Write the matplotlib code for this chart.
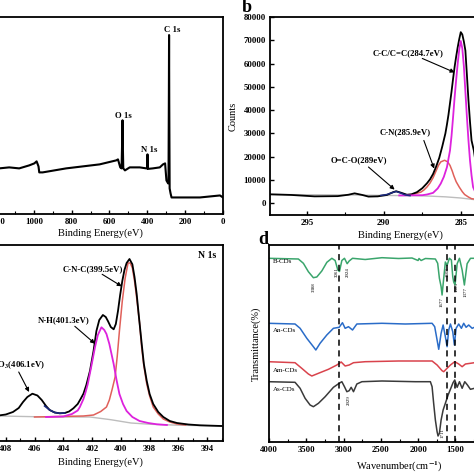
import numpy as np
import matplotlib
matplotlib.use('Agg')
import matplotlib.pyplot as plt
from matplotlib.ticker import MultipleLocator

plt.rcParams['font.family'] = ['Liberation Serif', 'DejaVu Serif']
plt.rcParams['font.weight'] = 'bold'
plt.rcParams['mathtext.fontset'] = 'stix'
plt.rcParams['axes.linewidth'] = 1.3
plt.rcParams['xtick.direction'] = 'in'
plt.rcParams['ytick.direction'] = 'in'

# (a) survey spectrum
survey_be = [1300, 1250, 1183, 1130, 1077, 1024, 997, 985, 975, 971, 953, 829, 652, 564, 555,
             543, 536, 532, 531, 530, 527, 518, 493, 440, 405, 401, 399, 397, 371, 334, 317,
             306, 299, 290, 288, 286, 285, 284, 282, 277, 272, 122, 16, 0]
survey_counts = [45000, 46000, 45000, 46000, 45000, 48000, 50000, 52000, 47000, 41000, 41000,
                 45000, 49000, 53000, 54000, 46000, 45000, 80000, 93000, 75000, 45000, 43000,
                 46000, 46000, 45000, 45000, 59000, 44500, 45000, 46000, 49000, 50000, 33000,
                 30000, 31000, 120000, 178000, 110000, 25000, 20000, 16000, 16000, 18000, 16000]

# (b) C 1s
c1s_env_be = [297.5, 296.0, 294.5, 293.0, 292.3, 291.9, 291.4, 291.0, 290.4, 289.8, 289.4, 289.2,
              288.9, 288.5, 288.2, 287.85, 287.5, 287.2, 287.0, 286.8, 286.6, 286.4, 286.2, 286.0,
              285.9, 285.8, 285.7, 285.6, 285.5, 285.4, 285.3, 285.2, 285.1, 285.0, 284.9, 284.8,
              284.7, 284.6, 284.5, 284.4, 284.3, 284.15, 284.0, 283.8, 283.5, 283.2, 282.5, 281.5,
              280.0]
c1s_env = [3900, 3600, 3000, 3100, 3700, 4300, 3600, 2900, 3000, 3600, 4800, 5200, 4600, 3700,
           3900, 4800, 6500, 8600, 10300, 12600, 15800, 19500, 24500, 30000, 33800, 38000, 43000,
           48000, 53500, 58600, 63000, 67000, 70500, 73500, 72500, 69500, 65600, 55000, 44200,
           35000, 27000, 22700, 16000, 11000, 6500, 4000, 2000, 1200, 800]
c1s_cc_be = [289.0, 287.5, 287.2, 286.8, 286.5, 286.3, 286.1, 285.9, 285.7, 285.6, 285.5, 285.4,
             285.3, 285.2, 285.1, 285.0, 284.9, 284.8, 284.7, 284.6, 284.5, 284.4, 284.3, 284.2,
             284.0, 283.8, 283.0, 280.0]
c1s_cc = [3400, 3500, 3800, 4500, 6400, 8500, 11400, 15500, 22700, 29000, 37000, 45500, 53000,
          60000, 66000, 69700, 66500, 59000, 48000, 37000, 27000, 18400, 12000, 7000, 4000, 3000,
          1500, 800]
c1s_cn_be = [288.5, 288.2, 287.6, 287.4, 287.2, 287.0, 286.8, 286.6, 286.45, 286.3, 286.05, 285.85,
             285.7, 285.55, 285.45, 285.3, 285.1, 284.9, 284.75, 284.5, 284.3, 283.5, 282.0, 280.0]
c1s_cn = [3500, 3700, 4800, 5700, 7000, 8700, 11000, 14000, 16300, 17800, 18500, 17800, 16300,
          13800, 11800, 9300, 7000, 5000, 3800, 2700, 2000, 1300, 900, 800]
c1s_oco_be = [290.2, 289.8, 289.5, 289.2, 288.9, 288.6, 288.3]
c1s_oco = [3400, 3800, 4500, 5100, 4400, 3600, 3300]
c1s_bg_be = [297.5, 292.0, 290.0, 288.0, 287.0, 286.0, 285.0, 284.5, 284.0, 283.0, 281.0, 280.0]
c1s_bg = [3800, 3600, 3400, 3300, 3100, 2800, 2300, 1900, 1500, 1000, 800, 800]

# (c) N 1s
n1s_env_be = [410.0, 409.0, 408.4, 408.0, 407.5, 407.1, 406.8, 406.5, 406.15, 405.8, 405.5, 405.2,
              404.95, 404.6, 404.25, 403.9, 403.6, 403.3, 403.0, 402.8, 402.6, 402.4, 402.15,
              401.9, 401.7, 401.5, 401.25, 401.05, 400.9, 400.7, 400.5, 400.35, 400.2, 400.05,
              399.9, 399.75, 399.6, 399.4, 399.2, 399.05, 398.9, 398.75, 398.55, 398.4, 398.2,
              398.0, 397.75, 397.4, 397.05, 396.6, 396.1, 395.3, 394.5, 393.0]
n1s_env = [24, 25, 25.7, 26.5, 29, 33, 39, 44, 47.3, 45.5, 41, 35, 31, 28.5, 27.7, 28, 29.5, 32.7,
           37, 42, 47.3, 56, 70, 90, 110, 121, 126, 124, 120, 114, 111.7, 117, 130, 146, 160, 171,
           178, 182, 176.7, 164, 147, 125, 97, 77, 60, 47, 37, 29, 24, 20, 18, 16.5, 15.7, 15]
n1s_nh_be = [405.2, 404.0, 403.4, 403.0, 402.85, 402.6, 402.45, 402.3, 402.05, 401.8, 401.6,
             401.35, 401.15, 401.0, 400.8, 400.65, 400.5, 400.3, 400.1, 399.85, 399.6, 399.2,
             398.7, 398.1, 397.5, 396.8]
n1s_nh = [24, 24.5, 27, 30.5, 34, 42, 49, 57, 75, 93.7, 106, 113.7, 111, 107, 97, 87, 77, 61, 47,
          37, 30, 24, 20, 18, 16.7, 16]
n1s_cnc_be = [406.0, 402.6, 401.9, 401.4, 401.0, 400.8, 400.6, 400.4, 400.25, 400.1, 399.9, 399.7,
              399.5, 399.35, 399.2, 399.05, 398.9, 398.7, 398.55, 398.4, 398.2, 398.0, 397.75,
              397.4, 397.05, 396.6, 396.1, 395.5]
n1s_cnc = [24, 25, 26, 29.5, 34, 41, 52, 64, 85, 110, 140, 163, 178, 178, 173, 160, 143, 118, 93,
           75, 57, 45, 34, 27, 22, 19, 17, 16]
n1s_no3_be = [405.3, 404.95, 404.6, 404.25, 403.9]
n1s_no3 = [35, 31, 28.5, 27.7, 28]
n1s_bg_be = [410.0, 408.4, 405.0, 402.15, 400.7, 399.3, 397.9, 396.0, 393.0]
n1s_bg = [24.5, 25, 24, 24, 21.3, 18, 16.7, 15.8, 15]

# (d) FTIR
b_wn = [4009, 3606, 3539, 3472, 3405, 3359, 3292, 3224, 3157, 3113, 3077, 3055, 3023, 2988, 2952,
        2925, 2880, 2710, 2485, 2262, 2082, 2001, 1988, 1960, 1903, 1769, 1738, 1715, 1692, 1679,
        1657, 1635, 1612, 1581, 1554, 1536, 1523, 1505, 1477, 1446, 1410, 1380, 1343, 1298, 1253,
        1000, 500]
b_t = [183.7, 183, 178.7, 170.3, 164.3, 165, 171, 179.7, 183.7, 181.5, 172, 170.5, 181.5, 183.7,
       178.3, 181, 183.7, 182.5, 184.3, 183.5, 184, 181.5, 183.5, 181.5, 183.5, 183, 178.7, 163.7,
       155.3, 147, 163.7, 180, 176.7, 183.7, 182, 165.3, 160, 157, 178.3, 183.7, 172, 157, 178.3,
       183.7, 183.7, 182.5, 181.5]
an_wn = [4009, 3651, 3583, 3493, 3405, 3372, 3315, 3225, 3136, 3059, 3015, 2979, 2934, 2880, 2822,
         2485, 2172, 1813, 1778, 1746, 1724, 1692, 1665, 1635, 1612, 1590, 1567, 1536, 1514, 1491,
         1456, 1420, 1389, 1357, 1322, 1276, 1245, 1000, 500]
an_t = [118.7, 118, 113.7, 103.7, 95.3, 92, 98.7, 107, 113.7, 114.7, 119.3, 113.7, 115.3, 112,
        118, 118.7, 118, 118.7, 115.3, 102, 92.7, 108.7, 117, 105.3, 95.3, 112, 118, 110.3, 97,
        113.7, 118, 113.7, 118.7, 114.7, 117, 113.7, 114.7, 117, 117]
am_wn = [4009, 3651, 3561, 3472, 3426, 3337, 3203, 3090, 3032, 2979, 2925, 2867, 2710, 2262, 1813,
         1746, 1679, 1657, 1612, 1567, 1509, 1456, 1410, 1366, 1299, 1245, 1000, 500]
am_t = [80.3, 79.3, 73.7, 68, 66, 68.7, 72.7, 77, 80, 76, 77, 79.3, 80.3, 81, 81, 77, 71.3, 70.3,
        73.7, 77, 80.3, 78, 75.3, 78, 78.7, 79.3, 79.5, 79.5]
as_wn = [4009, 3651, 3583, 3516, 3449, 3405, 3337, 3247, 3136, 3059, 3023, 2988, 2956, 2925, 2898,
         2867, 2822, 2754, 2485, 2038, 1836, 1813, 1792, 1769, 1746, 1733, 1715, 1692, 1665, 1635,
         1598, 1562, 1532, 1509, 1477, 1446, 1410, 1375, 1339, 1299, 1245, 1000, 500]
as_t = [60.3, 59.7, 53.7, 43.7, 37, 35.3, 38.7, 45.3, 54.7, 58.7, 60.3, 55.3, 50.3, 51.3, 54.7,
        50.3, 58, 60.3, 61, 60.3, 60.3, 55.3, 38.7, 22, 10.3, 6, 8.7, 22, 32, 38.7, 47, 53.7, 59.3,
        62, 54.7, 60.3, 53.7, 60.3, 57, 52.7, 53.7, 57, 57]
ir_names = ['B-CDs', 'An-CDs', 'Am-CDs', 'As-CDs']
ir_name_t = [181, 111.3, 72, 52.7]
dash_wn = [3061, 1608, 1505]
peak_text = ['3388', '3061', '2924', '1677', '1608', '1505', '1377', '2929', '1711']
peak_wn = [3405, 3088, 2948, 1692, 1602, 1491, 1366, 2934, 1671]
peak_t = [155, 170, 170, 140, 170, 155, 150, 42, 9]

W = 474
fig = plt.figure(figsize=(4.74, 4.74), dpi=100)


def add_ax(l, t, r, b):
    return fig.add_axes([l / W, 1 - b / W, (r - l) / W, (b - t) / W])


def arrow(ax, tail, head):
    ax.annotate('', xy=head, xytext=tail,
                arrowprops=dict(arrowstyle='-|>', color='black', lw=0.8,
                                mutation_scale=6, shrinkA=0, shrinkB=0))


tfs = 6.3
lfs = 7.5
afs = 6.3

# ---- a
ax = add_ax(-23, 17, 223, 213.5)
ax.plot(survey_be, survey_counts, color='black', lw=1.5)
ax.set_xlim(1300, 0)
ax.set_ylim(0, 196000)
ax.set_yticks([])
ax.xaxis.set_major_locator(MultipleLocator(200))
ax.xaxis.set_minor_locator(MultipleLocator(100))
ax.tick_params(axis='x', labelsize=tfs, length=3, width=1, pad=3)
ax.tick_params(axis='x', which='minor', length=2, width=0.8)
ax.set_xlabel('Binding Energy(eV)', fontsize=lfs, labelpad=2)
ax.text(270, 183000, 'C 1s', fontsize=afs, ha='center', va='center')
ax.text(525, 97000, 'O 1s', fontsize=afs, ha='center', va='center')
ax.text(392, 63000, 'N 1s', fontsize=afs, ha='center', va='center')

# ---- b
ax = add_ax(270, 17, 530, 215)
ax.plot(c1s_bg_be, c1s_bg, color='#bdbdbd', lw=1.0)
ax.plot(c1s_cn_be, c1s_cn, color='#e0605a', lw=1.1)
ax.plot(c1s_env_be, c1s_env, color='black', lw=1.3)
ax.plot(c1s_cc_be, c1s_cc, color='#dd22dd', lw=1.3)
ax.plot(c1s_oco_be, c1s_oco, color='#1b2a80', lw=1.1)
ax.set_xlim(297.4, 280.5)
ax.set_ylim(-5000, 80000)
ax.set_yticks(np.arange(0, 80001, 10000))
ax.xaxis.set_major_locator(MultipleLocator(5))
ax.xaxis.set_minor_locator(MultipleLocator(2.5))
ax.tick_params(labelsize=tfs, length=3, width=1, pad=3)
ax.tick_params(which='minor', length=2, width=0.8)
ax.set_xlabel('Binding Energy(eV)', fontsize=lfs, labelpad=2)
ax.set_ylabel('Counts', fontsize=lfs, labelpad=4)
ax.text(288.4, 64500, 'C-C/C=C(284.7eV)', fontsize=afs, ha='center', va='center')
arrow(ax, (287.5, 62200), (285.4, 56200))
ax.text(288.6, 30600, 'C-N(285.9eV)', fontsize=afs, ha='center', va='center')
arrow(ax, (287.4, 27000), (286.73, 14900))
ax.text(291.6, 18400, 'O=C-O(289eV)', fontsize=afs, ha='center', va='center')
arrow(ax, (291.0, 15600), (289.3, 5900))

# ---- c
ax = add_ax(-23, 245, 223, 441)
ax.plot(n1s_bg_be, n1s_bg, color='#bdbdbd', lw=1.0)
ax.plot(n1s_cnc_be, n1s_cnc, color='#e0605a', lw=1.1)
ax.plot(n1s_env_be, n1s_env, color='black', lw=1.3)
ax.plot(n1s_nh_be, n1s_nh, color='#dd22dd', lw=1.3)
ax.plot(n1s_no3_be, n1s_no3, color='#1b2a80', lw=1.2)
ax.set_xlim(410.0, 392.9)
ax.set_ylim(0, 196)
ax.set_yticks([])
ax.xaxis.set_major_locator(MultipleLocator(2))
ax.xaxis.set_minor_locator(MultipleLocator(1))
ax.tick_params(axis='x', labelsize=tfs, length=3, width=1, pad=3)
ax.tick_params(axis='x', which='minor', length=2, width=0.8)
ax.set_xlabel('Binding Energy(eV)', fontsize=lfs, labelpad=3)
ax.text(394.0, 185.7, 'N 1s', fontsize=7, ha='center', va='center')
ax.text(401.96, 171.7, 'C-N-C(399.5eV)', fontsize=afs, ha='center', va='center')
arrow(ax, (401.3, 166.7), (399.94, 154.7))
ax.text(404.0, 121.3, 'N-H(401.3eV)', fontsize=afs, ha='center', va='center')
arrow(ax, (403.2, 114.7), (401.8, 97.3))
ax.text(405.28, 75.7, r'NO$_{\mathbf{3}}$(406.1eV)', fontsize=afs, ha='right', va='center')
arrow(ax, (407.1, 69), (406.38, 49))

# ---- d
ax = add_ax(269, 245, 530, 442)
ax.plot(b_wn, b_t, color='#3aa56c', lw=1.1)
ax.plot(an_wn, an_t, color='#2a6cc8', lw=1.1)
ax.plot(am_wn, am_t, color='#d9434c', lw=1.1)
ax.plot(as_wn, as_t, color='#3a3a3a', lw=1.1)
for w in dash_wn:
    ax.axvline(w, color='black', lw=1.1, ls=(0, (4, 3)))
for name, t in zip(ir_names, ir_name_t):
    ax.text(3950, t, name, fontsize=5, fontweight='normal', ha='left', va='center')
for s, w, t in zip(peak_text, peak_wn, peak_t):
    ax.text(w, t, s, fontsize=3.5, fontweight='normal', rotation=90, ha='center', va='center')
ax.set_xlim(4000, 500)
ax.set_ylim(0, 197)
ax.set_yticks([])
ax.xaxis.set_major_locator(MultipleLocator(500))
ax.xaxis.set_minor_locator(MultipleLocator(250))
ax.tick_params(axis='x', labelsize=tfs, length=3, width=1, pad=3)
ax.tick_params(axis='x', which='minor', length=2, width=0.8)
ax.set_xlabel(r'Wavenumber(cm$^{\mathbf{-1}}$)', fontsize=lfs, labelpad=4)
ax.set_ylabel('Transmittance(%)', fontsize=lfs, labelpad=6)

fig.text(247 / W, 1 - 11.5 / W, 'b', fontsize=13, ha='center', va='baseline')
fig.text(263 / W, 1 - 243.5 / W, 'd', fontsize=13, ha='center', va='baseline')

fig.savefig('out.png', dpi=100)
